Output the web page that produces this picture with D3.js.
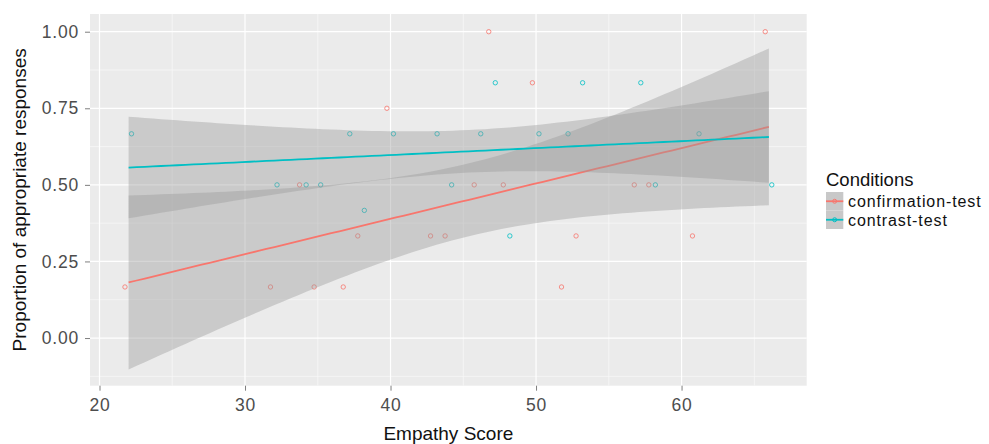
<!DOCTYPE html>
<html>
<head>
<meta charset="utf-8">
<script src="https://cdn.jsdelivr.net/npm/d3@7"></script>
<style>
  body { margin: 0; background: #fff; }
  text { font-family: "Liberation Sans", Arial, sans-serif; }
</style>
</head>
<body>
<div id="chart"></div>
<script>
// empathy score and proportion of appropriate responses, per condition
var conditions = ["confirmation-test", "contrast-test"];
var confX = [22, 32, 35, 34, 40, 47, 50, 46, 48, 57, 58, 38, 37, 43, 44, 53, 52, 66, 61];
var confY = [0.1667, 0.1667, 0.1667, 0.5, 0.75, 1.0, 0.8333, 0.5, 0.5, 0.5, 0.5, 0.3333, 0.1667, 0.3333, 0.3333, 0.3333, 0.1667, 1.0, 0.3333];
var contX = [22, 32, 34, 35, 37, 40, 43, 46, 50, 52, 47, 53, 57, 44, 58, 38, 48, 61, 66];
var contY = [0.6667, 0.5, 0.5, 0.5, 0.6667, 0.6667, 0.6667, 0.6667, 0.6667, 0.6667, 0.8333, 0.8333, 0.8333, 0.5, 0.5, 0.4167, 0.3333, 0.6667, 0.5];
var xTicks = [20, 30, 40, 50, 60];
var yTicks = [0, 0.25, 0.5, 0.75, 1];

var colors = ["#F8766D", "#00BFC4"];
var dodge = [-0.25, 0.2];
var tCrit = 2.1098; // qt(0.975, df = 17)

var W = 989, H = 444;
var panel = {left: 90, top: 14, right: 806.7, bottom: 385.7};

var svg = d3.select("#chart").append("svg")
  .attr("width", W).attr("height", H);

var x = d3.scaleLinear().domain([19.347, 68.6]).range([panel.left, panel.right]);
var y = d3.scaleLinear().domain([-0.1556, 1.0578]).range([panel.bottom, panel.top]);

var groups = [
  {name: conditions[0], pts: confX.map(function(v, i){ return {x: v, y: confY[i]}; })},
  {name: conditions[1], pts: contX.map(function(v, i){ return {x: v, y: contY[i]}; })}
];

// lm fit with 95% confidence band, as geom_smooth(method = "lm")
function fitLine(pts) {
  var n = pts.length;
  var mx = d3.mean(pts, d => d.x), my = d3.mean(pts, d => d.y);
  var sxx = d3.sum(pts, d => (d.x - mx) * (d.x - mx));
  var sxy = d3.sum(pts, d => (d.x - mx) * (d.y - my));
  var b = sxy / sxx, a = my - b * mx;
  var sse = d3.sum(pts, d => Math.pow(d.y - (a + b * d.x), 2));
  var s = Math.sqrt(sse / (n - 2));
  var ext = d3.extent(pts, d => d.x);
  return d3.range(80).map(function(i){
    var xv = ext[0] + (ext[1] - ext[0]) * i / 79;
    var fit = a + b * xv;
    var se = s * Math.sqrt(1 / n + (xv - mx) * (xv - mx) / sxx);
    return {x: xv, y: fit, lo: fit - tCrit * se, hi: fit + tCrit * se};
  });
}

// panel + grid
svg.append("rect")
  .attr("x", panel.left).attr("y", panel.top)
  .attr("width", panel.right - panel.left).attr("height", panel.bottom - panel.top)
  .attr("fill", "#EBEBEB");

var minorX = [25, 35, 45, 55, 65];
var minorY = [-0.125, 0.125, 0.375, 0.625, 0.875];
var grid = svg.append("g");
grid.selectAll(".mx").data(minorX).enter().append("line")
  .attr("x1", d => x(d)).attr("x2", d => x(d))
  .attr("y1", panel.top).attr("y2", panel.bottom)
  .attr("stroke", "#F7F7F7").attr("stroke-width", 0.8);
grid.selectAll(".my").data(minorY).enter().append("line")
  .attr("y1", d => y(d)).attr("y2", d => y(d))
  .attr("x1", panel.left).attr("x2", panel.right)
  .attr("stroke", "#F7F7F7").attr("stroke-width", 0.8);
grid.selectAll(".gx").data(xTicks).enter().append("line")
  .attr("x1", d => x(d)).attr("x2", d => x(d))
  .attr("y1", panel.top).attr("y2", panel.bottom)
  .attr("stroke", "#fff").attr("stroke-width", 1.2);
grid.selectAll(".gy").data(yTicks).enter().append("line")
  .attr("y1", d => y(d)).attr("y2", d => y(d))
  .attr("x1", panel.left).attr("x2", panel.right)
  .attr("stroke", "#fff").attr("stroke-width", 1.2);

// points
groups.forEach(function(g, gi){
  svg.append("g").selectAll("circle")
    .data(g.pts).enter().append("circle")
    .attr("cx", d => x(d.x + dodge[gi]))
    .attr("cy", d => y(d.y))
    .attr("r", 2.2)
    .attr("fill", "none")
    .attr("stroke", colors[gi])
    .attr("stroke-width", 1)
    .attr("opacity", 0.8);
});

// smooths
var area = d3.area().x(d => x(d.x)).y0(d => y(d.lo)).y1(d => y(d.hi));
var line = d3.line().x(d => x(d.x)).y(d => y(d.y));
groups.forEach(function(g, gi){
  var fit = fitLine(g.pts);
  svg.append("path").datum(fit)
    .attr("d", area)
    .attr("fill", "#999999").attr("fill-opacity", 0.4);
  svg.append("path").datum(fit)
    .attr("d", line)
    .attr("fill", "none").attr("stroke", colors[gi]).attr("stroke-width", 1.8);
});

// axes
var xAxis = svg.append("g")
  .attr("transform", "translate(0," + panel.bottom + ")")
  .call(d3.axisBottom(x).tickValues(xTicks).tickSize(5).tickPadding(4).tickFormat(d3.format("d")));
var yAxis = svg.append("g")
  .attr("transform", "translate(" + panel.left + ",0)")
  .call(d3.axisLeft(y).tickValues(yTicks).tickSize(5).tickPadding(6).tickFormat(d3.format(".2f")));
[xAxis, yAxis].forEach(function(ax){
  ax.select(".domain").remove();
  ax.selectAll(".tick line").attr("stroke", "#7F7F7F");
  ax.selectAll(".tick text").attr("fill", "#4D4D4D").attr("font-size", "17.5px")
    .attr("letter-spacing", "0.8px");
});
xAxis.selectAll(".tick text").attr("dy", "0.95em");

svg.append("text")
  .attr("x", (panel.left + panel.right) / 2).attr("y", 440)
  .attr("text-anchor", "middle").attr("font-size", "19px").attr("fill", "#111")
  .text("Empathy Score");
svg.append("text")
  .attr("transform", "translate(26," + ((panel.top + panel.bottom) / 2) + ") rotate(-90)")
  .attr("text-anchor", "middle").attr("font-size", "19px").attr("fill", "#111")
  .text("Proportion of appropriate responses");

// legend
var legend = svg.append("g").attr("transform", "translate(826,0)");
legend.append("text")
  .attr("x", 0).attr("y", 186)
  .attr("font-size", "18.5px").attr("fill", "#111")
  .text("Conditions");
var keys = legend.selectAll(".key").data(conditions).enter().append("g")
  .attr("transform", (d, i) => "translate(0," + (192 + 18.5 * i) + ")");
keys.append("rect")
  .attr("width", 17.3).attr("height", 18.5)
  .attr("fill", "#C8C8C8");
keys.append("line")
  .attr("x1", 0).attr("x2", 17.3).attr("y1", 9.25).attr("y2", 9.25)
  .attr("stroke", (d, i) => colors[i]).attr("stroke-width", 1.8);
keys.append("circle")
  .attr("cx", 8.65).attr("cy", 9.25).attr("r", 2)
  .attr("fill", "none").attr("stroke", (d, i) => colors[i]).attr("stroke-width", 1);
keys.append("text")
  .attr("x", 22).attr("y", 9.25).attr("dy", "0.36em")
  .attr("font-size", "16px").attr("letter-spacing", "0.9px").attr("fill", "#111")
  .text(d => d);
</script>
</body>
</html>
